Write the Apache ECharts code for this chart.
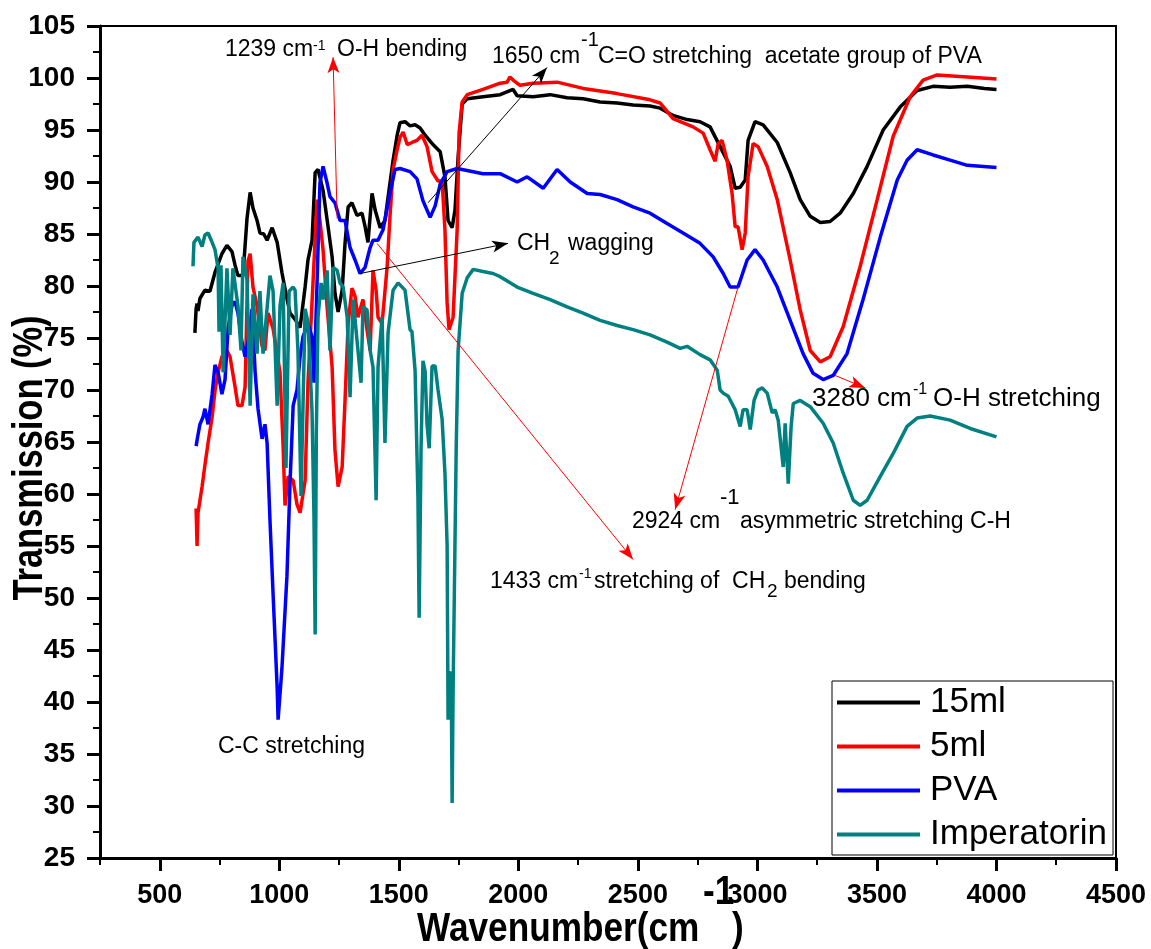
<!DOCTYPE html>
<html>
<head>
<meta charset="utf-8">
<script src="https://cdn.jsdelivr.net/npm/echarts@6/dist/echarts.min.js"></script>
<style>
html, body { margin: 0; padding: 0; background: #fff; }
#main { width: 1151px; height: 949px; }
</style>
</head>
<body>
<div id="main"></div>
<script>
// FTIR spectra, values: [wavenumber cm-1, transmission %]
var seriesNames = ['15ml', '5ml', 'PVA', 'Imperatorin'];
var seriesColors = ['#000000', '#ff0000', '#0000ff', '#008080'];

var black15 = [[647,75.5],[652,77.8],[656,78.3],[660,77.6],[668,78.8],[689,79.6],[710,79.5],[731,81.3],[760,83.1],[781,83.9],[802,83.3],[815,82.0],[827,81.0],[848,81.0],[865,86.5],[878,89.0],[890,87.5],[907,86.3],[919,85.1],[935,85.0],[949,84.4],[970,85.6],[991,84.2],[1011,81.3],[1030,79.0],[1045,77.4],[1066,76.8],[1087,76.0],[1108,79.9],[1120,82.5],[1137,84.4],[1150,90.9],[1162,91.2],[1183,89.2],[1204,85.7],[1221,82.8],[1233,79.3],[1246,77.5],[1263,79.6],[1275,84.1],[1288,87.6],[1304,88.0],[1325,86.8],[1346,87.0],[1359,85.7],[1371,84.2],[1388,88.9],[1401,87.3],[1422,85.6],[1442,86.3],[1463,89.9],[1476,92.1],[1493,94.5],[1505,95.7],[1526,95.8],[1547,95.4],[1568,95.5],[1589,95.2],[1610,94.5],[1643,93.6],[1673,92.9],[1693,90.5],[1706,86.3],[1723,85.6],[1735,87.3],[1748,92.4],[1765,97.5],[1786,98.0],[1852,98.2],[1924,98.4],[1978,98.9],[1995,98.3],[2062,98.2],[2133,98.4],[2204,98.1],[2271,98.0],[2342,97.7],[2413,97.6],[2480,97.4],[2551,97.3],[2593,97.1],[2647,96.4],[2706,96.0],[2760,95.8],[2802,95.3],[2844,93.4],[2886,91.5],[2907,89.4],[2928,89.5],[2949,90.2],[2961,94.0],[2990,95.8],[3024,95.5],[3083,93.8],[3137,90.9],[3179,88.3],[3221,86.7],[3263,86.1],[3304,86.2],[3346,87.0],[3401,88.9],[3459,91.5],[3526,95.0],[3597,97.2],[3668,98.8],[3735,99.2],[3806,99.1],[3878,99.2],[3950,99.0],[4000,98.9]];

var red5 = [[652,58.6],[656,55.0],[660,58.2],[677,60.7],[689,62.8],[702,64.9],[719,67.4],[731,69.9],[744,71.7],[760,73.2],[781,73.8],[794,73.2],[815,70.3],[827,68.5],[844,68.5],[857,70.3],[869,82.4],[878,83.1],[890,79.9],[907,78.1],[928,74.2],[940,73.8],[953,77.4],[974,75.9],[1003,71.7],[1016,64.6],[1024,58.9],[1037,61.7],[1058,61.3],[1074,59.0],[1087,58.2],[1108,61.3],[1120,70.7],[1141,80.3],[1158,88.3],[1170,86.3],[1183,83.5],[1200,78.0],[1221,72.2],[1233,64.2],[1246,60.7],[1263,62.6],[1275,69.0],[1288,76.4],[1304,79.8],[1317,79.0],[1329,77.0],[1350,78.7],[1367,75.8],[1380,73.8],[1392,81.5],[1405,79.6],[1413,77.0],[1430,76.4],[1451,81.8],[1463,86.7],[1476,91.2],[1493,93.1],[1505,94.3],[1518,94.8],[1535,93.6],[1555,93.8],[1576,94.0],[1597,94.5],[1618,93.4],[1639,91.0],[1664,90.1],[1681,90.1],[1693,85.4],[1702,78.4],[1710,75.8],[1727,77.0],[1744,85.4],[1752,94.7],[1765,97.7],[1786,98.4],[1852,98.9],[1924,99.5],[1953,99.6],[1965,100.1],[1978,99.8],[2007,99.3],[2062,99.5],[2162,99.6],[2271,99.0],[2413,98.5],[2551,97.9],[2593,97.6],[2647,96.1],[2731,95.3],[2773,94.7],[2802,93.1],[2823,92.0],[2836,93.7],[2852,94.0],[2873,92.1],[2894,88.9],[2907,85.7],[2919,85.7],[2936,83.5],[2949,85.1],[2961,90.5],[2982,93.7],[3003,93.4],[3041,91.5],[3083,88.3],[3137,82.5],[3179,77.7],[3221,73.8],[3263,72.7],[3304,73.2],[3359,76.1],[3430,81.9],[3501,88.3],[3568,94.4],[3639,98.2],[3693,99.8],[3752,100.3],[3878,100.1],[4000,99.9]];

var bluePVA = [[652,64.6],[660,65.7],[668,66.7],[681,67.4],[689,68.2],[702,66.7],[719,69.6],[731,72.4],[744,71.7],[760,69.6],[773,71.0],[786,76.0],[802,78.1],[815,78.5],[827,77.4],[844,74.6],[857,73.2],[869,74.6],[886,77.8],[899,71.7],[911,68.2],[928,65.3],[940,66.7],[949,64.9],[961,57.5],[974,50.4],[991,41.4],[995,38.3],[1011,43.2],[1032,52.1],[1045,61.1],[1058,68.5],[1074,70.0],[1087,73.2],[1099,75.1],[1120,76.4],[1137,75.1],[1145,70.7],[1158,80.3],[1170,89.9],[1183,91.5],[1200,89.9],[1212,88.6],[1233,88.0],[1254,86.3],[1275,86.3],[1296,83.7],[1317,82.5],[1338,81.2],[1359,81.8],[1380,83.7],[1392,84.4],[1413,84.4],[1434,85.4],[1463,88.9],[1484,91.2],[1505,91.3],[1547,91.0],[1576,90.3],[1601,88.2],[1631,86.6],[1652,87.7],[1673,89.8],[1702,91.0],[1744,91.3],[1852,90.8],[1924,90.8],[1995,90.0],[2037,90.5],[2104,89.4],[2162,91.2],[2217,90.0],[2288,88.9],[2342,88.8],[2413,88.3],[2480,87.6],[2551,87.0],[2622,86.0],[2689,85.1],[2760,84.1],[2815,82.8],[2857,81.2],[2886,79.9],[2919,79.9],[2957,82.5],[2990,83.5],[3024,82.5],[3083,79.9],[3137,76.7],[3191,73.5],[3233,71.6],[3275,71.0],[3317,71.4],[3375,73.5],[3442,78.7],[3514,84.7],[3585,90.2],[3626,92.1],[3668,93.1],[3735,92.6],[3806,92.1],[3878,91.6],[4000,91.4]];

var tealImp = [[639,81.9],[643,84.2],[660,84.7],[677,83.8],[689,84.9],[702,85.1],[719,84.2],[731,83.5],[744,81.7],[748,75.6],[756,82.0],[765,71.7],[781,81.7],[794,75.3],[806,81.7],[827,78.1],[840,73.8],[848,82.8],[865,80.6],[878,68.5],[890,79.2],[907,73.5],[919,79.5],[932,73.5],[961,81.0],[974,79.5],[991,68.5],[1003,78.1],[1016,80.3],[1028,62.5],[1041,79.5],[1058,79.9],[1066,79.6],[1078,73.8],[1091,59.8],[1108,77.8],[1120,76.5],[1137,67.9],[1145,58.0],[1150,46.5],[1155,66.0],[1162,77.0],[1175,80.3],[1183,78.7],[1200,81.5],[1212,73.8],[1225,81.8],[1242,81.5],[1254,80.3],[1267,79.9],[1284,77.0],[1296,69.3],[1309,78.7],[1325,74.8],[1342,70.7],[1350,78.0],[1367,77.7],[1380,73.8],[1392,72.2],[1405,59.4],[1413,72.2],[1430,77.0],[1442,64.9],[1455,75.5],[1476,79.6],[1497,80.3],[1526,79.6],[1547,75.8],[1555,75.6],[1568,71.9],[1580,59.7],[1585,48.1],[1593,64.4],[1601,72.8],[1610,71.8],[1618,66.7],[1627,64.4],[1639,72.3],[1652,72.3],[1664,70.0],[1681,67.2],[1693,62.0],[1702,55.1],[1706,38.3],[1710,42.5],[1719,42.9],[1723,30.3],[1727,41.1],[1740,64.4],[1748,73.8],[1765,79.3],[1786,80.8],[1811,81.6],[1852,81.4],[1894,81.2],[1924,80.9],[1995,79.9],[2062,79.3],[2133,78.7],[2204,78.0],[2271,77.4],[2342,76.7],[2413,76.2],[2480,75.8],[2551,75.3],[2622,74.6],[2677,74.0],[2706,74.2],[2760,73.4],[2802,72.9],[2832,71.9],[2844,70.0],[2857,69.7],[2878,69.4],[2907,68.1],[2928,66.5],[2940,68.1],[2957,68.1],[2970,66.2],[2986,69.0],[3003,70.0],[3020,70.2],[3041,69.7],[3062,67.8],[3074,68.1],[3087,67.1],[3108,62.6],[3116,66.8],[3129,61.0],[3141,66.5],[3150,68.7],[3179,69.0],[3221,68.4],[3275,66.8],[3317,64.9],[3359,62.0],[3401,59.4],[3430,58.9],[3459,59.4],[3514,61.7],[3568,63.9],[3626,66.5],[3668,67.3],[3723,67.5],[3806,67.1],[3890,66.3],[4000,65.5]];

var xMajorTicks = [500, 1000, 1500, 2000, 2500, 3000, 3500, 4000, 4500];

// annotation arrows, [from, to] in data units
var redArrows = [
  [[1242, 86.5], [1225, 102.0]],
  [[1409, 84.1], [2480, 53.7]],
  [[2919, 79.9], [2656, 58.5]],
  [[3325, 71.4], [3451, 70.2]]
];
var blackArrows = [
  [[1622, 88.0], [2120, 101.0]],
  [[1338, 81.2], [1957, 84.1]]
];

var FONT = '"Liberation Sans", Arial, sans-serif';
var spectra = [black15, red5, bluePVA, tealImp];

function arrowSeries(list, color) {
  return {
    type: 'line', data: [], silent: true,
    markLine: {
      silent: true, animation: false,
      symbol: ['none', 'arrow'], symbolSize: [9, 16],
      label: { show: false },
      lineStyle: { color: color, width: 1, type: 'solid' },
      emphasis: { disabled: true },
      data: list.map(function (a) { return [{ coord: a[0] }, { coord: a[1] }]; })
    }
  };
}

function txt(x, y, s, size, bold, extra) {
  var el = {
    type: 'text', x: x, y: y, silent: true, z: 50,
    style: {
      text: s, fill: '#000', fontSize: size, fontFamily: FONT,
      fontWeight: bold ? 'bold' : 'normal', align: 'left', verticalAlign: 'middle'
    }
  };
  if (extra) { for (var k in extra) el[k] = extra[k]; }
  return el;
}

var chart = echarts.init(document.getElementById('main'));

var series = spectra.map(function (d, i) {
  return {
    name: seriesNames[i], type: 'line', data: d,
    showSymbol: false, symbol: 'none', animation: false,
    lineStyle: { color: seriesColors[i], width: 3.5 },
    itemStyle: { color: seriesColors[i] }
  };
});
series.push(arrowSeries(redArrows, '#ff0000'));
series.push(arrowSeries(blackArrows, '#000000'));

var option = {
  backgroundColor: '#fff',
  animation: false,
  grid: { left: 100, right: 35, top: 26, bottom: 91, show: true, borderColor: '#000', borderWidth: 2 },
  legend: {
    data: seriesNames, orient: 'vertical', left: 832, top: 681,
    icon: 'rect', itemWidth: 83, itemHeight: 4, itemGap: 9,
    padding: [4, 6, 3, 5],
    backgroundColor: '#fff', borderColor: '#000', borderWidth: 1,
    textStyle: { fontSize: 35, fontFamily: FONT, color: '#000', padding: [0, 0, 0, 5] }
  },
  xAxis: [{
    type: 'value', min: 250, max: 4500, interval: 250, position: 'bottom',
    axisLine: { show: true, onZero: false, lineStyle: { color: '#000', width: 3 } },
    axisTick: { show: true, length: 7, lineStyle: { color: '#000', width: 2 } },
    axisLabel: {
      customValues: xMajorTicks, margin: 24, color: '#000',
      fontSize: 27, fontWeight: 'bold', fontFamily: FONT,
      formatter: function (v) { return String(v); }
    },
    splitLine: { show: false }
  }, {
    type: 'value', min: 250, max: 4500, interval: 250, position: 'bottom',
    axisLine: { show: false },
    axisTick: { show: true, customValues: xMajorTicks, length: 13, lineStyle: { color: '#000', width: 3 } },
    axisLabel: { show: false },
    splitLine: { show: false }
  }],
  yAxis: {
    type: 'value', min: 25, max: 105, interval: 5,
    axisLine: { show: true, onZero: false, lineStyle: { color: '#000', width: 3 } },
    axisTick: { show: true, length: 13, lineStyle: { color: '#000', width: 3 } },
    minorTick: { show: true, splitNumber: 2, length: 7, lineStyle: { color: '#000', width: 2 } },
    axisLabel: { margin: 25, color: '#000', fontSize: 28, fontWeight: 'bold', fontFamily: FONT },
    splitLine: { show: false }
  },
  series: series,
  graphic: [
    // axis titles
    txt(30, 458, 'Transmission (%)', 42, true, { rotation: Math.PI / 2, scaleX: 0.82, style: {
      text: 'Transmission (%)', fill: '#000', fontSize: 42, fontFamily: FONT, fontWeight: 'bold',
      align: 'center', verticalAlign: 'middle' } }),
    txt(417, 930, 'Wavenumber(cm', 40, true, { scaleX: 0.88 }),
    txt(703, 893, '-1', 40, true, { scaleX: 0.88 }),
    txt(732, 930, ')', 40, true, { scaleX: 0.88 }),
    // annotations
    txt(225, 50, '1239 cm', 23), txt(313, 46, '-1', 14), txt(337, 50, 'O-H bending', 23),
    txt(492, 57, '1650 cm', 23), txt(581, 40, '-1', 20), txt(598, 57, 'C=O stretching  acetate group of PVA', 23),
    txt(517, 244, 'CH', 23), txt(549, 259, '2', 19), txt(568, 244, 'wagging', 23),
    txt(490, 582, '1433 cm', 23), txt(579, 574, '-1', 14), txt(594, 582, 'stretching of  CH', 23), txt(767, 592, '2', 19), txt(784, 582, 'bending', 23),
    txt(632, 522, '2924 cm', 23), txt(720, 498, '-1', 22), txt(740, 522, 'asymmetric stretching C-H', 23),
    txt(812, 399, '3280 cm', 26), txt(913, 390, '-1', 16), txt(933, 399, 'O-H stretching', 26),
    txt(218, 747, 'C-C stretching', 23)
  ]
};

chart.setOption(option);
window.onresize = chart.resize;
</script>
</body>
</html>
